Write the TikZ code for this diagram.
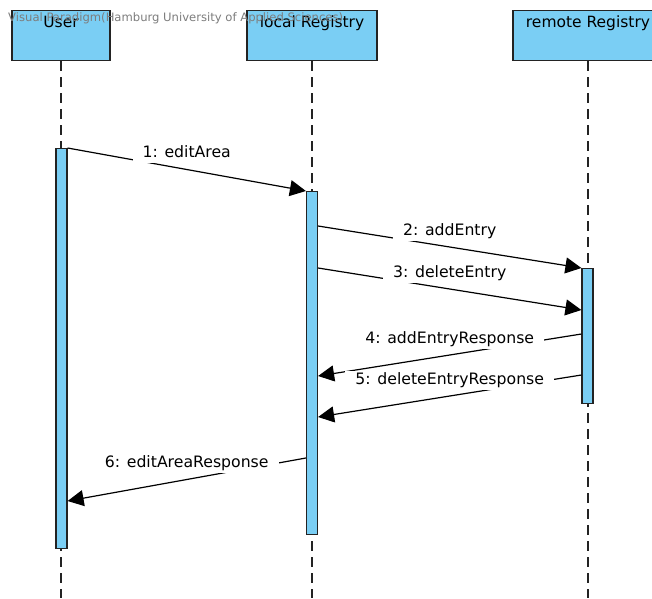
\documentclass[tikz,border=0pt]{standalone}
\usepackage{fontspec}
\setmainfont{DejaVu Sans}
\usetikzlibrary{calc}
\usetikzlibrary{arrows.meta}
\usetikzlibrary{positioning}
\definecolor{umlblue}{RGB}{122, 206, 244}
\definecolor{umlborder}{RGB}{35, 35, 35}
\definecolor{wmgray}{RGB}{125, 125, 125}

\tikzset{
    lifehead/.style={draw=umlborder, fill=umlblue, line width=1.2pt, minimum width=#1,
                     inner xsep=0pt, inner ysep=4pt, text height=13pt, text depth=29pt,
                     font=\fontsize{15.5}{18}\selectfont},
    lifeline/.style={umlborder, line width=1.2pt, dash pattern=on 10pt off 6pt},
    actbar/.style={draw=umlborder, fill=umlblue, line width=1.2pt, minimum width=11pt, inner sep=0pt},
    call/.style={black, line width=1.2pt, -{Triangle[length=16pt, width=16pt]}},
    msglabel/.style={midway, yshift=16pt, fill=white, inner xsep=10pt, inner ysep=2.5pt,
                     text height=11pt, text depth=3pt, font=\fontsize{15.7}{18}\selectfont}
}

\begin{document}
\begin{tikzpicture}[x=1pt, y=-1pt]
            % Frame to ensure alignment:
            \useasboundingbox[fill=white]                                  (  0,   0) rectangle (652, 598);
            % Lifeline heads:
            \node[lifehead=98pt,  anchor=north] (user)   at ( 61, 10) {User};
            \node[lifehead=130pt, anchor=north] (local)  at (312, 10) {local Registry};
            \node[lifehead=150pt, anchor=north] (remote) at (588, 10) {remote Registry};
            \node[wmgray, anchor=west, inner sep=0pt, font=\fontsize{11.6}{13}\selectfont] (wm) at (8, 18)
                 {Visual Paradigm(Hamburg University of Applied Sciences)};
            % Lifelines:
            \draw[lifeline] (user.south)   -- (user.south   |- 0, 598);
            \draw[lifeline] (local.south)  -- (local.south  |- 0, 598);
            \draw[lifeline] (remote.south) -- (remote.south |- 0, 598);
            % Activations:
            \node[actbar, minimum height=400pt, anchor=north] (userAct)   at ( 61.5, 148) {};
            \node[actbar, minimum height=343pt, anchor=north] (localAct)  at (312,   191) {};
            \node[actbar, minimum height=135pt, anchor=north] (remoteAct) at (587.5, 268) {};
            % Messages:
            \draw[call] (userAct.north east)                  -- node[msglabel] {1: editArea}
                        (localAct.north west);
            \draw[call] ($(localAct.north east)+(0,35)$)      -- node[msglabel] {2: addEntry}
                        (remoteAct.north west);
            \draw[call] ($(localAct.north east)+(0,77)$)      -- node[msglabel] {3: deleteEntry}
                        ($(remoteAct.north west)+(0,42)$);
            \draw[call] ($(remoteAct.north west)+(0,66)$)     -- node[msglabel] {4: addEntryResponse}
                        ($(localAct.north east)+(0,185)$);
            \draw[call] ($(remoteAct.north west)+(0,107)$)    -- node[msglabel] {5: deleteEntryResponse}
                        ($(localAct.north east)+(0,226)$);
            \draw[call] ($(localAct.north west)+(0,267)$)     -- node[msglabel] {6: editAreaResponse}
                        ($(userAct.north east)+(0,353)$);
        \end{tikzpicture}
\end{document}
